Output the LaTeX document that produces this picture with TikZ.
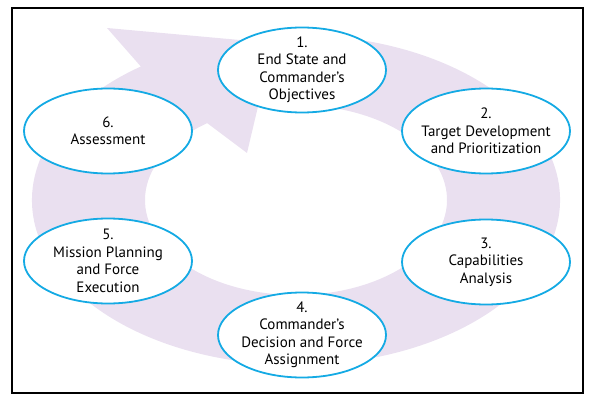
\documentclass[tikz,border=0pt]{standalone}
\usepackage{fontspec}
\setmainfont{PT Sans}
\usetikzlibrary{shapes.geometric}
\definecolor{ringcol}{RGB}{234,224,240}
\definecolor{stepblue}{RGB}{20,170,228}
\tikzset{
  stepnode/.style={ellipse, draw=stepblue, line width=1.8pt, fill=white,
    minimum width=168pt, minimum height=85pt, inner xsep=-14pt, inner ysep=-14pt, align=center,
    font=\fontsize{15}{17.5}\selectfont, text=black},
  ringfill/.style={fill=ringcol},
  frame/.style={draw=black, line width=1.6pt}
}
\begin{document}
\begin{tikzpicture}[x=1pt,y=1pt]
\useasboundingbox (0,0) rectangle (601,402);
\draw[frame] (12,394) rectangle (583,9);
% ring arrow
\coordinate (rc) at (296,202);
\coordinate (os) at ([shift={(296,202)}]80:264pt and 165pt);
\coordinate (ie) at ([shift={(296,202)}]126:151pt and 95pt);
\coordinate (barbo) at (107,374);
\coordinate (tip) at (273,359);
\coordinate (barbi) at (247,249);
\fill[ringfill] (os) arc[start angle=80, end angle=-234, x radius=264pt, y radius=165pt]
  -- (barbo) -- (tip) -- (barbi) -- (ie)
  arc[start angle=126, end angle=440, x radius=151pt, y radius=95pt] -- cycle;
% steps
\node[stepnode] (s1) at (302,332) {1.\\End State and\\Commander’s\\Objectives};
\node[stepnode] (s2) at (486,271) {2.\\Target Development\\and Prioritization};
\node[stepnode] (s3) at (486,140) {3.\\Capabilities\\Analysis};
\node[stepnode] (s4) at (302,67) {4.\\Commander’s\\Decision and Force\\Assignment};
\node[stepnode] (s5) at (108,141) {5.\\Mission Planning\\and Force\\Execution};
\node[stepnode] (s6) at (108,271) {6.\\Assessment};
\end{tikzpicture}
\end{document}
